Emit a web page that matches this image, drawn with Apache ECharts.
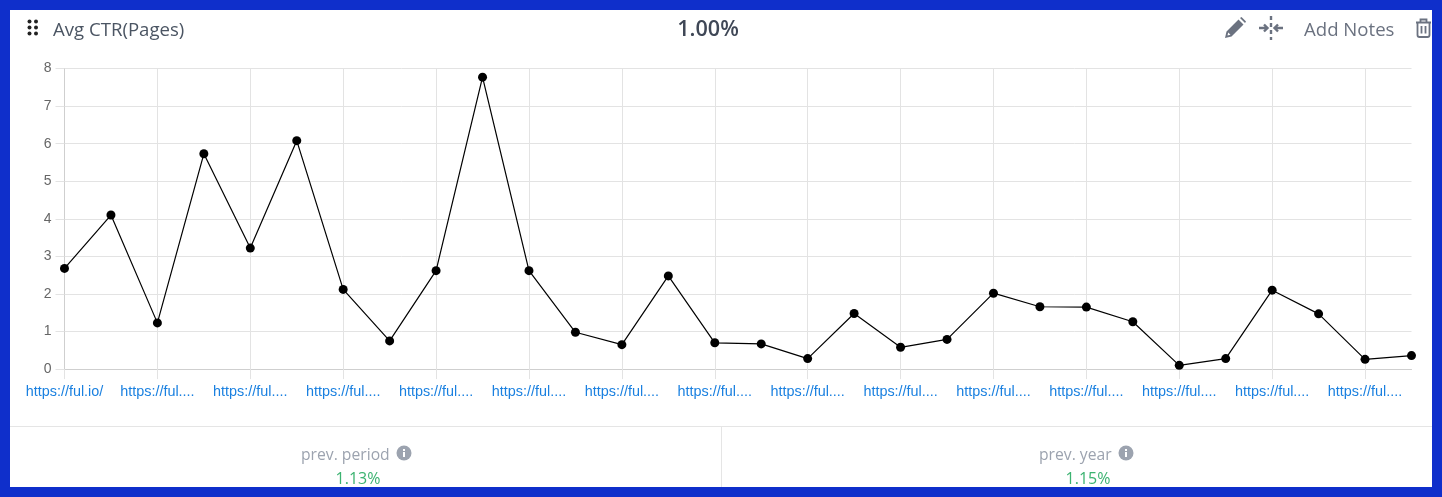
<!DOCTYPE html>
<html>
<head>
<meta charset="utf-8">
<title>Avg CTR(Pages)</title>
<script src="https://cdn.jsdelivr.net/npm/echarts@6/dist/echarts.min.js"></script>
<style>
html, body { margin: 0; padding: 0; background: #0f2fcb; overflow: hidden; }
#card { position: absolute; left: 10px; top: 10px; width: 1422px; height: 477px; background: #fff; overflow: hidden; font-family: "Open Sans", "Noto Sans", sans-serif; }
#chart { position: absolute; left: -10px; top: -10px; width: 1442px; height: 497px; }
.txt { position: absolute; white-space: nowrap; }
.ico { position: absolute; }
#title { left: 43px; top: 7px; font-size: 18.6px; color: #4b5563; line-height: 24px; }
#total { left: 0; width: 1396px; text-align: center; top: 3px; font-size: 21.6px; font-weight: 600; color: #3f4756; line-height: 30px; }
#notes { left: 1294px; top: 7px; font-size: 18.6px; color: #6b7280; line-height: 24px; }
#hline { position: absolute; left: 0; top: 416px; width: 1422px; height: 1px; background: #e5e5e5; }
#vline { position: absolute; left: 711px; top: 417px; width: 1px; height: 60px; background: #e5e5e5; }
.cmp { font-size: 15.7px; color: #9ca3af; line-height: 22px; top: 433px; }
.pct { font-size: 16px; color: #3cb371; line-height: 22px; top: 457px; width: 100px; text-align: center; }
</style>
</head>
<body>
<div id="card">
  <div id="chart"></div>
  <svg class="ico" style="left:17px;top:9px" width="12" height="18" viewBox="0 0 12 18" fill="#222">
    <circle cx="2.5" cy="2.5" r="2"/><circle cx="9" cy="2.5" r="2"/>
    <circle cx="2.5" cy="8.5" r="2"/><circle cx="9" cy="8.5" r="2"/>
    <circle cx="2.5" cy="14.5" r="2"/><circle cx="9" cy="14.5" r="2"/>
  </svg>
  <div class="txt" id="title">Avg CTR(Pages)</div>
  <div class="txt" id="total">1.00%</div>
  <svg class="ico" style="left:1214px;top:7px" width="22" height="22" viewBox="0 0 22 22" fill="#6b7280">
    <path d="M1 21 L2.5 14.5 L14.5 2.5 L19.5 7.5 L7.5 19.5 Z M4.2 15.5 L3.5 18.5 L6.5 17.8 Z"/>
    <path d="M16 1 L17.5 0 L22 4.5 L21 6 Z"/>
  </svg>
  <svg class="ico" style="left:1248px;top:5px" width="26" height="26" viewBox="0 0 26 26" fill="none" stroke="#6b7280" stroke-width="2.4">
    <path d="M13 1 V5 M13 8 V12 M13 15 V19 M13 22 V25"/>
    <path d="M1 13 H9 M6 9.5 L9.5 13 L6 16.5"/>
    <path d="M25 13 H17 M20 9.5 L16.5 13 L20 16.5"/>
  </svg>
  <div class="txt" id="notes">Add Notes</div>
  <svg class="ico" style="left:1405px;top:8px" width="17" height="20" viewBox="0 0 17 20" fill="none" stroke="#6b7280" stroke-width="1.8">
    <path d="M1 4.5 H16 M5.5 4 V1.5 H11.5 V4"/>
    <path d="M2.5 4.5 V17 Q2.5 19 4.5 19 H12.5 Q14.5 19 14.5 17 V4.5"/>
    <path d="M6.5 8 V15.5 M10.5 8 V15.5"/>
  </svg>
  <div id="hline"></div>
  <div id="vline"></div>
  <div class="txt cmp" style="left:291px">prev. period</div>
  <svg class="ico" style="left:386px;top:435px" width="16" height="16" viewBox="0 0 16 16">
    <circle cx="8" cy="8" r="7.5" fill="#9ca3af"/><rect x="7" y="7" width="2" height="5" fill="#fff"/><rect x="7" y="4" width="2" height="2" fill="#fff"/>
  </svg>
  <div class="txt pct" style="left:298px">1.13%</div>
  <div class="txt cmp" style="left:1029px">prev. year</div>
  <svg class="ico" style="left:1108px;top:435px" width="16" height="16" viewBox="0 0 16 16">
    <circle cx="8" cy="8" r="7.5" fill="#9ca3af"/><rect x="7" y="7" width="2" height="5" fill="#fff"/><rect x="7" y="4" width="2" height="2" fill="#fff"/>
  </svg>
  <div class="txt pct" style="left:1028px">1.15%</div>
</div>
<script>
// 页面地址（图上多数被截断）
var pages = ['https://ful.io/', 'https://ful....', 'https://ful....', 'https://ful....', 'https://ful....',
  'https://ful....', 'https://ful....', 'https://ful....', 'https://ful....', 'https://ful....',
  'https://ful....', 'https://ful....', 'https://ful....', 'https://ful....', 'https://ful....',
  'https://ful....', 'https://ful....', 'https://ful....', 'https://ful....', 'https://ful....',
  'https://ful....', 'https://ful....', 'https://ful....', 'https://ful....', 'https://ful....',
  'https://ful....', 'https://ful....', 'https://ful....', 'https://ful....', 'https://ful....']
var ctrValues = [2.68, 4.1, 1.23, 5.73, 3.22, 6.08, 2.12, 0.75, 2.62, 7.77,
  2.62, 0.98, 0.65, 2.48, 0.7, 0.67, 0.28, 1.48, 0.58, 0.79,
  2.02, 1.66, 1.65, 1.26, 0.1, 0.28, 2.1, 1.47, 0.26, 0.36]

var gridColor = '#e3e3e3'
var chart = echarts.init(document.getElementById('chart'), null, { renderer: 'canvas' })
chart.setOption({
  animation: false,
  grid: { left: 64.5, top: 68.5, width: 1347, height: 300.6 },
  xAxis: {
    type: 'category',
    data: pages,
    boundaryGap: false,
    axisLine: { lineStyle: { color: '#cfcfcf' } },
    axisTick: { show: true, interval: 1, length: 10, lineStyle: { color: gridColor } },
    splitLine: { show: true, interval: 1, lineStyle: { color: gridColor } },
    axisLabel: { interval: 1, margin: 16, fontSize: 14.4, color: '#1a80e0', fontFamily: 'Liberation Sans', hideOverlap: false }
  },
  yAxis: {
    type: 'value',
    min: 0,
    max: 8,
    interval: 1,
    axisLine: { show: true, lineStyle: { color: '#cfcfcf' } },
    axisTick: { show: true, length: 9, lineStyle: { color: gridColor } },
    splitLine: { show: true, lineStyle: { color: gridColor } },
    axisLabel: { margin: 13, fontSize: 14, color: '#666', fontFamily: 'Liberation Sans' }
  },
  series: [{
    type: 'line',
    data: ctrValues,
    symbol: 'circle',
    symbolSize: 9,
    showAllSymbol: true,
    clip: false,
    itemStyle: { color: '#000' },
    lineStyle: { color: '#000', width: 1.2 }
  }]
})
</script>
</body>
</html>
